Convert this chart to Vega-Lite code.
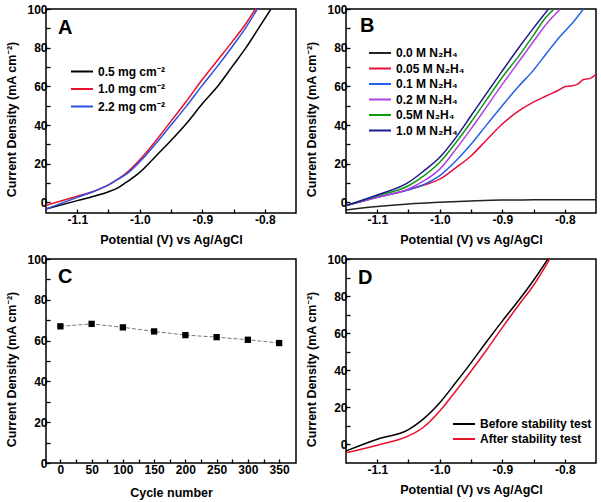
{
 "$schema": "https://vega.github.io/schema/vega-lite/v6.json",
 "padding": {"left": 5, "top": 2, "right": 2, "bottom": 2},
 "background": "white",
 "config": {
  "font": "Liberation Sans",
  "view": {"stroke": "black", "strokeWidth": 1.5},
  "axis": {"grid": false, "domain": false, "tickColor": "black", "tickSize": -4, "tickWidth": 1.3, "labelFont": "Liberation Sans", "labelFontSize": 12, "labelFontWeight": "bold", "labelColor": "black", "titleFont": "Liberation Sans, Noto Sans", "titleFontSize": 12.5, "titleFontWeight": "bold", "titleColor": "black", "labelFlush": false, "labelOverlap": false},
  "axisX": {"labelPadding": 5, "titlePadding": 8},
  "axisY": {"labelPadding": 3, "titlePadding": 8, "titleY": 110},
  "legend": {"orient": "none", "title": null, "padding": 0, "symbolType": "M-1,0H3", "symbolSize": 121, "symbolStrokeWidth": 2, "labelFont": "Liberation Sans, Noto Sans", "labelFontSize": 12, "labelFontWeight": "bold", "labelColor": "black", "rowPadding": 5, "labelOffset": 15},
  "title": {"anchor": "start", "frame": "group", "fontSize": 20, "fontWeight": "bold", "font": "Liberation Sans", "color": "black", "baseline": "alphabetic", "offset": 0}
 },
 "datasets": {
  "A": [
   {"s": "0.5 mg cm⁻²", "x": -1.15, "y": -3.4}, {"s": "0.5 mg cm⁻²", "x": -1.1, "y": 0.9}, {"s": "0.5 mg cm⁻²", "x": -1.075, "y": 3}, {"s": "0.5 mg cm⁻²", "x": -1.05, "y": 5.5}, {"s": "0.5 mg cm⁻²", "x": -1.035, "y": 7.5}, {"s": "0.5 mg cm⁻²", "x": -1.022, "y": 10.3}, {"s": "0.5 mg cm⁻²", "x": -1.0, "y": 15.5}, {"s": "0.5 mg cm⁻²", "x": -0.974, "y": 24}, {"s": "0.5 mg cm⁻²", "x": -0.95, "y": 32}, {"s": "0.5 mg cm⁻²", "x": -0.926, "y": 40.5}, {"s": "0.5 mg cm⁻²", "x": -0.9, "y": 51}, {"s": "0.5 mg cm⁻²", "x": -0.873, "y": 61}, {"s": "0.5 mg cm⁻²", "x": -0.851, "y": 70.7}, {"s": "0.5 mg cm⁻²", "x": -0.83, "y": 80}, {"s": "0.5 mg cm⁻²", "x": -0.809, "y": 90.5}, {"s": "0.5 mg cm⁻²", "x": -0.79, "y": 100},
   {"s": "1.0 mg cm⁻²", "x": -1.15, "y": -1.5}, {"s": "1.0 mg cm⁻²", "x": -1.1, "y": 3.2}, {"s": "1.0 mg cm⁻²", "x": -1.075, "y": 5.5}, {"s": "1.0 mg cm⁻²", "x": -1.05, "y": 9}, {"s": "1.0 mg cm⁻²", "x": -1.035, "y": 12}, {"s": "1.0 mg cm⁻²", "x": -1.022, "y": 15}, {"s": "1.0 mg cm⁻²", "x": -1.0, "y": 22}, {"s": "1.0 mg cm⁻²", "x": -0.974, "y": 32}, {"s": "1.0 mg cm⁻²", "x": -0.95, "y": 42}, {"s": "1.0 mg cm⁻²", "x": -0.926, "y": 52}, {"s": "1.0 mg cm⁻²", "x": -0.9, "y": 63.5}, {"s": "1.0 mg cm⁻²", "x": -0.873, "y": 74.5}, {"s": "1.0 mg cm⁻²", "x": -0.851, "y": 83.5}, {"s": "1.0 mg cm⁻²", "x": -0.83, "y": 92.5}, {"s": "1.0 mg cm⁻²", "x": -0.815, "y": 100},
   {"s": "2.2 mg cm⁻²", "x": -1.15, "y": -3.4}, {"s": "2.2 mg cm⁻²", "x": -1.1, "y": 2.6}, {"s": "2.2 mg cm⁻²", "x": -1.075, "y": 5.5}, {"s": "2.2 mg cm⁻²", "x": -1.05, "y": 9}, {"s": "2.2 mg cm⁻²", "x": -1.035, "y": 12}, {"s": "2.2 mg cm⁻²", "x": -1.022, "y": 14.5}, {"s": "2.2 mg cm⁻²", "x": -1.0, "y": 21}, {"s": "2.2 mg cm⁻²", "x": -0.974, "y": 30.5}, {"s": "2.2 mg cm⁻²", "x": -0.95, "y": 40}, {"s": "2.2 mg cm⁻²", "x": -0.926, "y": 49.5}, {"s": "2.2 mg cm⁻²", "x": -0.9, "y": 60.5}, {"s": "2.2 mg cm⁻²", "x": -0.873, "y": 71.5}, {"s": "2.2 mg cm⁻²", "x": -0.851, "y": 81}, {"s": "2.2 mg cm⁻²", "x": -0.83, "y": 90.5}, {"s": "2.2 mg cm⁻²", "x": -0.812, "y": 100}
  ],
  "B": [
   {"s": "0.0 M N₂H₄", "x": -1.15, "y": -4}, {"s": "0.0 M N₂H₄", "x": -1.1, "y": -2.2}, {"s": "0.0 M N₂H₄", "x": -1.05, "y": -0.9}, {"s": "0.0 M N₂H₄", "x": -1.0, "y": 0}, {"s": "0.0 M N₂H₄", "x": -0.95, "y": 0.7}, {"s": "0.0 M N₂H₄", "x": -0.9, "y": 1.2}, {"s": "0.0 M N₂H₄", "x": -0.85, "y": 1.3}, {"s": "0.0 M N₂H₄", "x": -0.8, "y": 1.3}, {"s": "0.0 M N₂H₄", "x": -0.75, "y": 1.3},
   {"s": "0.05 M N₂H₄", "x": -1.15, "y": -1.7}, {"s": "0.05 M N₂H₄", "x": -1.1, "y": 2.6}, {"s": "0.05 M N₂H₄", "x": -1.05, "y": 6.5}, {"s": "0.05 M N₂H₄", "x": -1.025, "y": 9}, {"s": "0.05 M N₂H₄", "x": -1.0, "y": 12}, {"s": "0.05 M N₂H₄", "x": -0.974, "y": 18}, {"s": "0.05 M N₂H₄", "x": -0.95, "y": 24}, {"s": "0.05 M N₂H₄", "x": -0.926, "y": 32}, {"s": "0.05 M N₂H₄", "x": -0.9, "y": 40.5}, {"s": "0.05 M N₂H₄", "x": -0.873, "y": 47.4}, {"s": "0.05 M N₂H₄", "x": -0.851, "y": 51.7}, {"s": "0.05 M N₂H₄", "x": -0.83, "y": 55}, {"s": "0.05 M N₂H₄", "x": -0.81, "y": 58}, {"s": "0.05 M N₂H₄", "x": -0.8, "y": 59.8}, {"s": "0.05 M N₂H₄", "x": -0.79, "y": 60.2}, {"s": "0.05 M N₂H₄", "x": -0.78, "y": 61}, {"s": "0.05 M N₂H₄", "x": -0.77, "y": 63.5}, {"s": "0.05 M N₂H₄", "x": -0.76, "y": 64}, {"s": "0.05 M N₂H₄", "x": -0.75, "y": 66.4},
   {"s": "0.1 M N₂H₄", "x": -1.15, "y": -1.7}, {"s": "0.1 M N₂H₄", "x": -1.1, "y": 2.6}, {"s": "0.1 M N₂H₄", "x": -1.05, "y": 6.5}, {"s": "0.1 M N₂H₄", "x": -1.025, "y": 9.3}, {"s": "0.1 M N₂H₄", "x": -1.0, "y": 13.8}, {"s": "0.1 M N₂H₄", "x": -0.974, "y": 21.5}, {"s": "0.1 M N₂H₄", "x": -0.95, "y": 30}, {"s": "0.1 M N₂H₄", "x": -0.926, "y": 39.7}, {"s": "0.1 M N₂H₄", "x": -0.9, "y": 50}, {"s": "0.1 M N₂H₄", "x": -0.873, "y": 60.3}, {"s": "0.1 M N₂H₄", "x": -0.851, "y": 68}, {"s": "0.1 M N₂H₄", "x": -0.83, "y": 76.7}, {"s": "0.1 M N₂H₄", "x": -0.809, "y": 85.3}, {"s": "0.1 M N₂H₄", "x": -0.787, "y": 93}, {"s": "0.1 M N₂H₄", "x": -0.77, "y": 100},
   {"s": "0.2 M N₂H₄", "x": -1.15, "y": -1.7}, {"s": "0.2 M N₂H₄", "x": -1.1, "y": 2.6}, {"s": "0.2 M N₂H₄", "x": -1.05, "y": 6.9}, {"s": "0.2 M N₂H₄", "x": -1.025, "y": 11.2}, {"s": "0.2 M N₂H₄", "x": -1.0, "y": 17.2}, {"s": "0.2 M N₂H₄", "x": -0.974, "y": 27.6}, {"s": "0.2 M N₂H₄", "x": -0.95, "y": 38}, {"s": "0.2 M N₂H₄", "x": -0.926, "y": 49}, {"s": "0.2 M N₂H₄", "x": -0.9, "y": 61}, {"s": "0.2 M N₂H₄", "x": -0.873, "y": 73}, {"s": "0.2 M N₂H₄", "x": -0.851, "y": 82.8}, {"s": "0.2 M N₂H₄", "x": -0.83, "y": 92}, {"s": "0.2 M N₂H₄", "x": -0.807, "y": 100},
   {"s": "0.5M N₂H₄", "x": -1.15, "y": -1.7}, {"s": "0.5M N₂H₄", "x": -1.1, "y": 3.4}, {"s": "0.5M N₂H₄", "x": -1.05, "y": 8.6}, {"s": "0.5M N₂H₄", "x": -1.025, "y": 13.8}, {"s": "0.5M N₂H₄", "x": -1.0, "y": 20.7}, {"s": "0.5M N₂H₄", "x": -0.974, "y": 31}, {"s": "0.5M N₂H₄", "x": -0.95, "y": 41.4}, {"s": "0.5M N₂H₄", "x": -0.926, "y": 52.6}, {"s": "0.5M N₂H₄", "x": -0.9, "y": 64.7}, {"s": "0.5M N₂H₄", "x": -0.873, "y": 75.9}, {"s": "0.5M N₂H₄", "x": -0.851, "y": 86}, {"s": "0.5M N₂H₄", "x": -0.83, "y": 95.7}, {"s": "0.5M N₂H₄", "x": -0.817, "y": 100},
   {"s": "1.0 M N₂H₄", "x": -1.15, "y": -1.7}, {"s": "1.0 M N₂H₄", "x": -1.1, "y": 3.8}, {"s": "1.0 M N₂H₄", "x": -1.05, "y": 10.3}, {"s": "1.0 M N₂H₄", "x": -1.025, "y": 16.4}, {"s": "1.0 M N₂H₄", "x": -1.0, "y": 23.3}, {"s": "1.0 M N₂H₄", "x": -0.974, "y": 33.6}, {"s": "1.0 M N₂H₄", "x": -0.95, "y": 44.8}, {"s": "1.0 M N₂H₄", "x": -0.926, "y": 56}, {"s": "1.0 M N₂H₄", "x": -0.9, "y": 68}, {"s": "1.0 M N₂H₄", "x": -0.873, "y": 80.2}, {"s": "1.0 M N₂H₄", "x": -0.851, "y": 89.7}, {"s": "1.0 M N₂H₄", "x": -0.826, "y": 100}
  ],
  "C": [
   {"cycle": 0, "j": 67}, {"cycle": 50, "j": 68.2}, {"cycle": 100, "j": 66.5}, {"cycle": 150, "j": 64.5}, {"cycle": 200, "j": 62.7}, {"cycle": 250, "j": 61.7}, {"cycle": 300, "j": 60.4}, {"cycle": 350, "j": 58.8}
  ],
  "D": [
   {"s": "Before stability test", "x": -1.15, "y": -3.5}, {"s": "Before stability test", "x": -1.1, "y": 2.8}, {"s": "Before stability test", "x": -1.05, "y": 8}, {"s": "Before stability test", "x": -1.027, "y": 13.5}, {"s": "Before stability test", "x": -1.0, "y": 22.5}, {"s": "Before stability test", "x": -0.974, "y": 33.5}, {"s": "Before stability test", "x": -0.95, "y": 44}, {"s": "Before stability test", "x": -0.926, "y": 55}, {"s": "Before stability test", "x": -0.9, "y": 66.5}, {"s": "Before stability test", "x": -0.873, "y": 78}, {"s": "Before stability test", "x": -0.851, "y": 88}, {"s": "Before stability test", "x": -0.827, "y": 100},
   {"s": "After stability test", "x": -1.15, "y": -4.5}, {"s": "After stability test", "x": -1.1, "y": -0.4}, {"s": "After stability test", "x": -1.05, "y": 4.6}, {"s": "After stability test", "x": -1.027, "y": 9}, {"s": "After stability test", "x": -1.0, "y": 18}, {"s": "After stability test", "x": -0.974, "y": 29}, {"s": "After stability test", "x": -0.95, "y": 39.5}, {"s": "After stability test", "x": -0.926, "y": 50.5}, {"s": "After stability test", "x": -0.9, "y": 63}, {"s": "After stability test", "x": -0.873, "y": 75.5}, {"s": "After stability test", "x": -0.851, "y": 85.3}, {"s": "After stability test", "x": -0.824, "y": 100}
  ]
 },
 "bounds": "flush",
 "columns": 2,
 "spacing": {"row": 46, "column": 50},
 "resolve": {"scale": {"x": "independent", "y": "independent", "color": "independent"}, "legend": {"color": "independent"}},
 "concat": [
  {
   "width": 250, "height": 204,
   "title": {"text": "A", "dx": 12, "dy": 39},
   "data": {"name": "A"},
   "mark": {"type": "line", "strokeWidth": 1.5, "clip": true, "interpolate": "monotone"},
   "encoding": {
    "x": {"field": "x", "type": "quantitative", "scale": {"domain": [-1.15, -0.75], "nice": false, "zero": false}, "axis": {"title": "Potential (V) vs Ag/AgCl", "values": [-1.1, -1.05, -1.0, -0.95, -0.9, -0.85, -0.8], "labelExpr": "abs(round(datum.value*100)) % 10 == 0 ? replace(format(datum.value, '.1f'), '−', '-') : ''"}},
    "y": {"field": "y", "type": "quantitative", "scale": {"domain": [-5.5, 100], "nice": false, "zero": false}, "axis": {"title": "Current Density (mA cm⁻²)", "values": [0, 10, 20, 30, 40, 50, 60, 70, 80, 90, 100], "labelExpr": "datum.value % 20 == 0 ? datum.label : ''"}},
    "color": {"field": "s", "type": "nominal", "scale": {"domain": ["0.5 mg cm⁻²", "1.0 mg cm⁻²", "2.2 mg cm⁻²"], "range": ["#000000", "#e8102a", "#2a4fe0"]}, "legend": {"legendX": 24, "legendY": 56, "rowPadding": 4.5}}
   }
  },
  {
   "width": 250, "height": 204,
   "title": {"text": "B", "dx": 14, "dy": 37},
   "data": {"name": "B"},
   "mark": {"type": "line", "strokeWidth": 1.5, "clip": true, "interpolate": "monotone"},
   "encoding": {
    "x": {"field": "x", "type": "quantitative", "scale": {"domain": [-1.15, -0.75], "nice": false, "zero": false}, "axis": {"title": "Potential (V) vs Ag/AgCl", "values": [-1.1, -1.05, -1.0, -0.95, -0.9, -0.85, -0.8], "labelExpr": "abs(round(datum.value*100)) % 10 == 0 ? replace(format(datum.value, '.1f'), '−', '-') : ''"}},
    "y": {"field": "y", "type": "quantitative", "scale": {"domain": [-5.5, 100], "nice": false, "zero": false}, "axis": {"title": "Current Density (mA cm⁻²)", "values": [0, 10, 20, 30, 40, 50, 60, 70, 80, 90, 100], "labelExpr": "datum.value % 20 == 0 ? datum.label : ''"}},
    "color": {"field": "s", "type": "nominal", "scale": {"domain": ["0.0 M N₂H₄", "0.05 M N₂H₄", "0.1 M N₂H₄", "0.2 M N₂H₄", "0.5M N₂H₄", "1.0 M N₂H₄"], "range": ["#222222", "#e8103a", "#2060e8", "#b040e8", "#109a10", "#1a1a90"]}, "legend": {"legendX": 22, "legendY": 37.5, "rowPadding": 2.5}}
   }
  },
  {
   "width": 250, "height": 204,
   "title": {"text": "C", "dx": 12, "dy": 38},
   "data": {"name": "C"},
   "encoding": {
    "x": {"field": "cycle", "type": "quantitative", "scale": {"domain": [-23, 377], "nice": false, "zero": false}, "axis": {"title": "Cycle number", "values": [0, 25, 50, 75, 100, 125, 150, 175, 200, 225, 250, 275, 300, 325, 350], "labelExpr": "datum.value % 50 == 0 ? datum.label : ''", "titlePadding": 11}},
    "y": {"field": "j", "type": "quantitative", "scale": {"domain": [0, 100], "nice": false}, "axis": {"title": "Current Density (mA cm⁻²)", "values": [0, 10, 20, 30, 40, 50, 60, 70, 80, 90, 100], "labelExpr": "datum.value % 20 == 0 ? datum.label : ''"}}
   },
   "layer": [
    {"mark": {"type": "line", "color": "#777777", "strokeWidth": 1, "strokeDash": [4, 2]}},
    {"mark": {"type": "point", "shape": "square", "filled": true, "color": "black", "size": 40, "opacity": 1}}
   ]
  },
  {
   "width": 250, "height": 204,
   "title": {"text": "D", "dx": 12, "dy": 39},
   "data": {"name": "D"},
   "mark": {"type": "line", "strokeWidth": 1.5, "clip": true, "interpolate": "monotone"},
   "encoding": {
    "x": {"field": "x", "type": "quantitative", "scale": {"domain": [-1.15, -0.75], "nice": false, "zero": false}, "axis": {"title": "Potential (V) vs Ag/AgCl", "values": [-1.1, -1.05, -1.0, -0.95, -0.9, -0.85, -0.8], "labelExpr": "abs(round(datum.value*100)) % 10 == 0 ? replace(format(datum.value, '.1f'), '−', '-') : ''"}},
    "y": {"field": "y", "type": "quantitative", "scale": {"domain": [-10, 100], "nice": false, "zero": false}, "axis": {"title": "Current Density (mA cm⁻²)", "values": [0, 10, 20, 30, 40, 50, 60, 70, 80, 90, 100], "labelExpr": "datum.value % 20 == 0 ? datum.label : ''"}},
    "color": {"field": "s", "type": "nominal", "scale": {"domain": ["Before stability test", "After stability test"], "range": ["#000000", "#e8102a"]}, "legend": {"legendX": 106, "legendY": 158.5, "rowPadding": 2}}
   }
  }
 ]
}
